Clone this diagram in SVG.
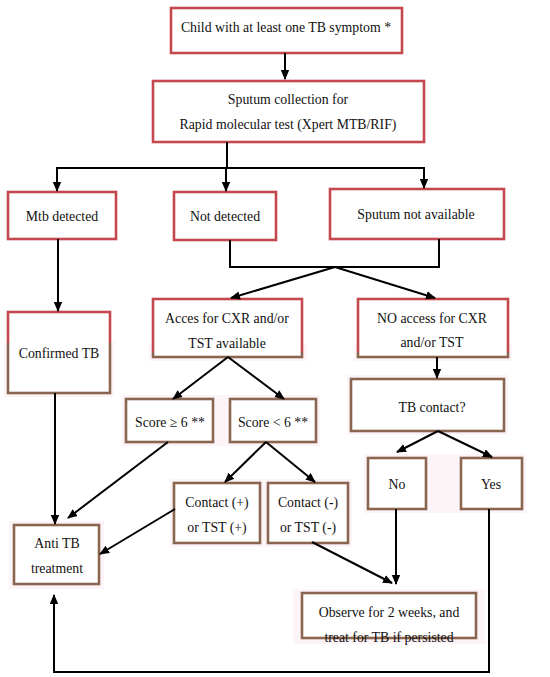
<svg xmlns="http://www.w3.org/2000/svg" width="550" height="677" viewBox="0 0 550 677">
<style>
.red{fill:#fff;stroke:#c4484d;stroke-width:2.6}
.brn{fill:#fff;stroke:#8a6650;stroke-width:2.6}
.mix{fill:#fff;stroke-width:2.6}
.halo{fill:#fdf4f8;stroke:none}
text{font-family:"Liberation Serif","Times New Roman",serif;font-size:13.8px;fill:#111;text-anchor:middle}
.cn{fill:none;stroke:#000;stroke-width:2}
</style>
<defs>
<marker id="ah" markerUnits="userSpaceOnUse" markerWidth="10" markerHeight="10" refX="9" refY="5" orient="auto">
<path d="M0,0.8 L10,5 L0,9.2 z" fill="#000"/>
</marker>
<linearGradient id="gConf" x1="0" y1="0" x2="0" y2="1">
<stop offset="0.38" stop-color="#c4484d"/><stop offset="0.38" stop-color="#8a6650"/>
</linearGradient>
<linearGradient id="gAcc" x1="0" y1="0" x2="0" y2="1">
<stop offset="0.9" stop-color="#c4484d"/><stop offset="0.93" stop-color="#8a6650"/>
</linearGradient>
<clipPath id="obsClip"><rect x="290" y="585" width="200" height="60"/></clipPath>
</defs>
<rect width="550" height="677" fill="#fff"/>

<g id="halos">
<rect class="halo" x="4" y="342" width="110" height="55"/>
<rect class="halo" x="149" y="345" width="158" height="16"/>
<rect class="halo" x="354" y="345" width="158" height="16"/>
<rect class="halo" x="347" y="375" width="161" height="60"/>
<rect class="halo" x="122" y="395" width="198" height="51"/>
<rect class="halo" x="170" y="479" width="182" height="68"/>
<rect class="halo" x="364" y="454" width="162" height="59"/>
<rect class="halo" x="9" y="521" width="95" height="68"/>
<rect class="halo" x="293" y="589" width="192" height="55"/>
</g>

<g id="n-child">
<rect class="red" x="171" y="8" width="231" height="45"/>
<text x="286" y="32">Child with at least one TB symptom *</text>
</g>
<g id="n-sputum">
<rect class="red" x="153" y="81" width="271" height="61"/>
<text x="288" y="104">Sputum collection for</text>
<text x="288" y="129">Rapid molecular test (Xpert MTB/RIF)</text>
</g>
<g id="n-mtb">
<rect class="red" x="8" y="192" width="108" height="47"/>
<text x="62" y="221">Mtb detected</text>
</g>
<g id="n-notdet">
<rect class="red" x="174" y="192" width="102" height="48"/>
<text x="225" y="221">Not detected</text>
</g>
<g id="n-sputna">
<rect class="red" x="330" y="189" width="174" height="50"/>
<text x="416" y="219">Sputum not available</text>
</g>
<g id="n-confirmed">
<rect class="mix" stroke="url(#gConf)" x="8" y="312" width="102" height="81"/>
<text x="59" y="358">Confirmed TB</text>
</g>
<g id="n-access">
<rect class="mix" stroke="url(#gAcc)" x="153" y="299" width="149" height="58"/>
<text x="227" y="323">Acces for CXR and/or</text>
<text x="227" y="348">TST available</text>
</g>
<g id="n-noaccess">
<rect class="mix" stroke="url(#gAcc)" x="358" y="299" width="150" height="58"/>
<text x="432" y="323">NO access for CXR</text>
<text x="432" y="347">and/or TST</text>
</g>
<g id="n-tbcontact">
<rect class="brn" x="351" y="379" width="153" height="52"/>
<text x="432" y="412">TB contact?</text>
</g>
<g id="n-score-ge">
<rect class="brn" x="126" y="399" width="87" height="43"/>
<text x="170" y="427">Score ≥ 6 **</text>
</g>
<g id="n-score-lt">
<rect class="brn" x="230" y="399" width="86" height="43"/>
<text x="273" y="427">Score &lt; 6 **</text>
</g>
<g id="n-contact-pos">
<rect class="brn" x="174" y="483" width="86" height="60"/>
<text x="217" y="507">Contact (+)</text>
<text x="217" y="532">or TST (+)</text>
</g>
<g id="n-contact-neg">
<rect class="brn" x="268" y="483" width="80" height="60"/>
<text x="308" y="507">Contact (-)</text>
<text x="308" y="532">or TST (-)</text>
</g>
<g id="n-no">
<rect class="brn" x="368" y="458" width="58" height="51"/>
<text x="397" y="489">No</text>
</g>
<g id="n-yes">
<rect class="brn" x="461" y="458" width="61" height="51"/>
<text x="491" y="489">Yes</text>
</g>
<g id="n-antitb">
<rect class="brn" x="14" y="525" width="85" height="59"/>
<text x="57" y="548">Anti TB</text>
<text x="57" y="573">treatment</text>
</g>
<g id="n-observe">
<rect class="brn" x="302" y="593" width="174" height="45"/>
<text x="389" y="617">Observe for 2 weeks, and</text>
<text x="389" y="642" clip-path="url(#obsClip)">treat for TB if persisted</text>
</g>

<g id="connectors">
<path class="cn" d="M285,53 V79" marker-end="url(#ah)"/>
<path class="cn" d="M227,142 V168 M56,168 H425"/>
<path class="cn" d="M57,168 V191" marker-end="url(#ah)"/>
<path class="cn" d="M226,168 V191" marker-end="url(#ah)"/>
<path class="cn" d="M424,168 V188" marker-end="url(#ah)"/>
<path class="cn" d="M58,239 V311" marker-end="url(#ah)"/>
<path class="cn" d="M230,240 V267 H439 V239"/>
<path class="cn" d="M335,267 L231,298" marker-end="url(#ah)"/>
<path class="cn" d="M335,267 L435,298" marker-end="url(#ah)"/>
<path class="cn" d="M55,393 V524" marker-end="url(#ah)"/>
<path class="cn" d="M228,357 L173,399" marker-end="url(#ah)"/>
<path class="cn" d="M228,357 L284,399" marker-end="url(#ah)"/>
<path class="cn" d="M437,357 V378" marker-end="url(#ah)"/>
<path class="cn" d="M168,442 L68,518" marker-end="url(#ah)"/>
<path class="cn" d="M266,442 L225,482" marker-end="url(#ah)"/>
<path class="cn" d="M266,442 L315,482" marker-end="url(#ah)"/>
<path class="cn" d="M438,431 L397,452" marker-end="url(#ah)"/>
<path class="cn" d="M438,431 L492,457" marker-end="url(#ah)"/>
<path class="cn" d="M175,509 L100,554" marker-end="url(#ah)"/>
<path class="cn" d="M312,542 L392,583" marker-end="url(#ah)"/>
<path class="cn" d="M396,509 V584" marker-end="url(#ah)"/>
<path class="cn" d="M489,509 V672 H54 V595" marker-end="url(#ah)"/>
</g>
</svg>
